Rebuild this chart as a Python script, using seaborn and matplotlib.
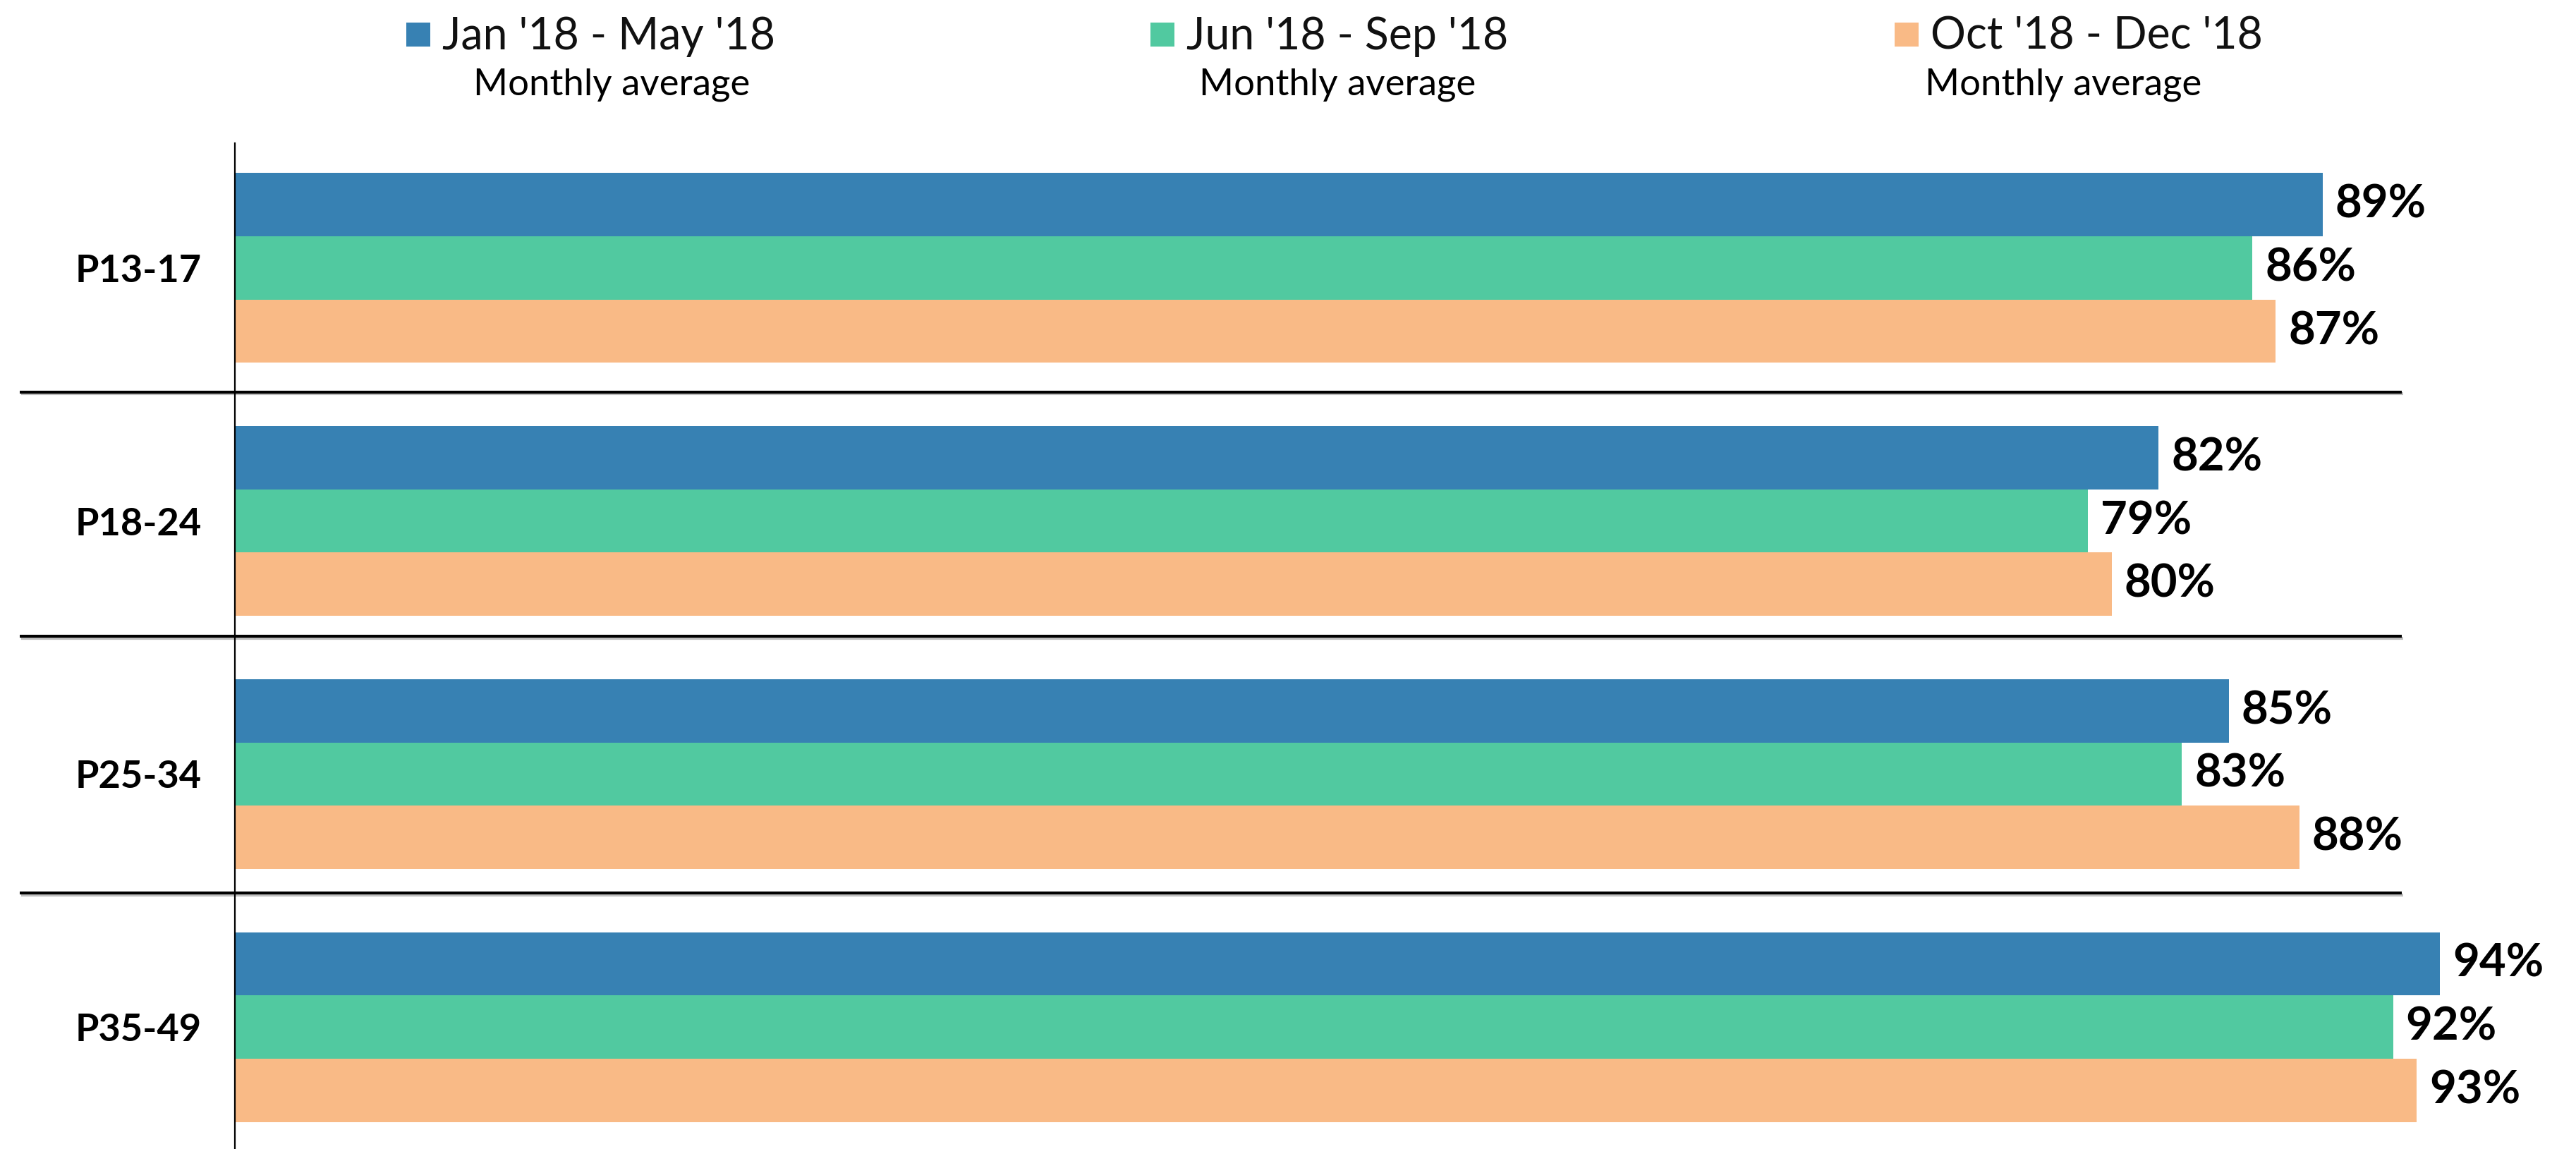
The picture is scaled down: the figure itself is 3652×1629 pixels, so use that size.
import matplotlib
matplotlib.use("Agg")
import matplotlib.pyplot as plt
import matplotlib.patheffects as pe
from matplotlib.patches import Rectangle
from matplotlib.transforms import blended_transform_factory
import pandas as pd
import seaborn as sns

segments = ["P13-17", "P18-24", "P25-34", "P35-49"]
periods = ["Jan '18 - May '18", "Jun '18 - Sep '18", "Oct '18 - Dec '18"]
period_note = "Monthly average"
jan_may = [89, 82, 85, 94]
jun_sep = [86, 79, 83, 92]
oct_dec = [87, 80, 88, 93]
colors = ["#3781B3", "#51C9A0", "#F9BA86"]

df = pd.DataFrame({
    "segment": segments * 3,
    "period": [p for p in periods for _ in segments],
    "share": jan_may + jun_sep + oct_dec,
})

W, H = 3652, 1629
sns.set_theme(style="white")
plt.rcParams["font.family"] = ["Lato", "DejaVu Sans"]

fig = plt.figure(figsize=(W / 100, H / 100), dpi=100)
ax = fig.add_axes([333 / W, 0, 1 - 333 / W, 1 - 203 / H])

sns.barplot(data=df, y="segment", x="share", hue="period", order=segments,
            hue_order=periods, palette=colors, orient="h", width=0.75,
            saturation=1, errorbar=None, linewidth=0, legend=False, ax=ax)

for cont in ax.containers:
    ax.bar_label(cont, labels=[f"{v:.0f}%" for v in cont.datavalues],
                 padding=13, fontsize=47, fontweight="bold", color="black")

ax.set_xlim(0, 99.8)
ax.set_ylim(3.482, -0.493)
ax.set_xlabel("")
ax.set_ylabel("")
ax.set_xticks([])
for side in ["top", "right", "bottom"]:
    ax.spines[side].set_visible(False)
ax.spines["left"].set_color("black")
ax.spines["left"].set_linewidth(1.6)
ax.tick_params(axis="y", length=0, pad=34)
for lbl in ax.get_yticklabels():
    lbl.set_fontsize(39)
    lbl.set_fontweight("bold")
    lbl.set_color("black")

# group separators with a soft shadow
trans = blended_transform_factory(fig.transFigure, ax.transData)
for y in [0.49, 1.455, 2.47]:
    ax.plot([28 / W, 3405 / W], [y, y], transform=trans, color="black", lw=3,
            clip_on=False, solid_capstyle="butt",
            path_effects=[pe.SimpleLineShadow(offset=(1.5, -2), shadow_color="gray", alpha=0.5),
                          pe.Normal()])

# legend drawn by hand: square, period and note below
for i, (period, col) in enumerate(zip(periods, colors)):
    x0 = 576 + i * 1055
    fig.add_artist(Rectangle((x0 / W, 1 - 66 / H), 34 / W, 34 / H,
                             transform=fig.transFigure, color=col, lw=0))
    fig.text((x0 + 51) / W, 1 - 70 / H, period, fontsize=45, ha="left",
             va="baseline", color="#111111")
    fig.text((867 + i * 1029) / W, 1 - 135 / H, period_note, fontsize=38,
             ha="center", va="baseline", color="black")

fig.savefig("out.png", dpi=100)
